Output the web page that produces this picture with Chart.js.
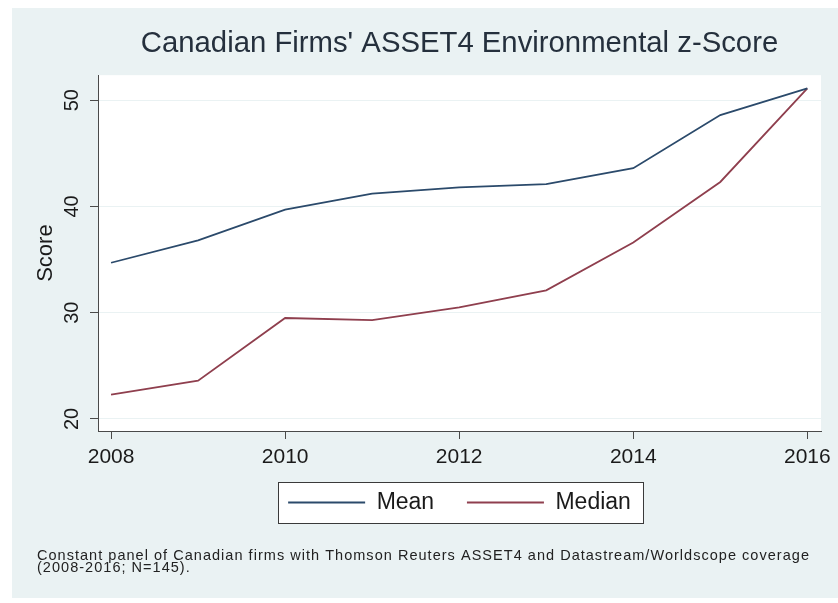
<!DOCTYPE html>
<html>
<head>
<meta charset="utf-8">
<script src="https://cdn.jsdelivr.net/npm/chart.js@4.4.1/dist/chart.umd.min.js"></script>
<style>
  html, body { margin: 0; padding: 0; background: #ffffff; }
  body { width: 838px; height: 603px; position: relative; overflow: hidden; }
  #wrap { position: absolute; left: 12px; top: 8px; width: 826px; height: 590px; background: #eaf2f3; }
  canvas { display: block; }
</style>
</head>
<body>
<div id="wrap"><canvas id="c" width="826" height="590"></canvas></div>
<script>
const years = [2008, 2009, 2010, 2011, 2012, 2013, 2014, 2015, 2016];
const meanScore = [34.7, 36.8, 39.7, 41.2, 41.8, 42.1, 43.6, 48.6, 51.1];
const medianScore = [22.3, 23.6, 29.5, 29.3, 30.5, 32.1, 36.6, 42.3, 51.1];
const seriesNames = ['Mean', 'Median'];
const titleText = "Canadian Firms' ASSET4 Environmental z-Score";
const yTitle = 'Score';
const noteLines = [
  'Constant panel of Canadian firms with Thomson Reuters ASSET4 and Datastream/Worldscope coverage',
  '(2008-2016; N=145).'
];

const FONT = '"Liberation Sans", Arial, sans-serif';
const colors = ['#2b4a6b', '#8f3f4e'];

const toPoints = (vals) => years.map((yr, i) => ({ x: yr, y: vals[i] }));

const plotBg = {
  id: 'plotBg',
  beforeDraw(chart) {
    const { ctx, chartArea: a } = chart;
    ctx.save();
    ctx.fillStyle = '#ffffff';
    ctx.fillRect(a.left, a.top, a.right - a.left, a.bottom - a.top);
    const lg = chart.legend;
    if (lg && lg.legendHitBoxes && lg.legendHitBoxes.length) {
      const hb = lg.legendHitBoxes;
      const first = hb[0], last = hb[hb.length - 1];
      const x0 = first.left - 10, x1 = last.left + last.width + 12;
      const y0 = first.top - 9, y1 = first.top + first.height + 9;
      ctx.fillStyle = '#ffffff';
      ctx.fillRect(x0, y0, x1 - x0, y1 - y0);
      ctx.strokeStyle = '#3a3a3a';
      ctx.lineWidth = 1;
      ctx.strokeRect(Math.round(x0) + 0.5, Math.round(y0) + 0.5, Math.round(x1 - x0), Math.round(y1 - y0));
    }
    ctx.restore();
  }
};

const notePlugin = {
  id: 'note',
  afterDraw(chart) {
    const { ctx } = chart;
    ctx.save();
    ctx.fillStyle = '#222222';
    ctx.font = '14.5px ' + FONT;
    ctx.textAlign = 'left';
    ctx.textBaseline = 'alphabetic';
    const target = 772;
    const w = ctx.measureText(noteLines[0]).width;
    const ls = (target - w) / (noteLines[0].length - 1);
    ctx.letterSpacing = ls.toFixed(2) + 'px';
    const x = 25, y0 = chart.height - 38, lh = 11.5;
    noteLines.forEach((t, i) => ctx.fillText(t, x, y0 + i * lh));
    ctx.restore();
  }
};

new Chart(document.getElementById('c'), {
  type: 'line',
  data: {
    datasets: [
      { label: seriesNames[0], data: toPoints(meanScore), borderColor: colors[0], backgroundColor: colors[0], borderWidth: 1.8, pointRadius: 0, tension: 0, fill: false },
      { label: seriesNames[1], data: toPoints(medianScore), borderColor: colors[1], backgroundColor: colors[1], borderWidth: 1.8, pointRadius: 0, tension: 0, fill: false }
    ]
  },
  options: {
    responsive: false,
    animation: false,
    devicePixelRatio: 1,
    layout: { padding: { left: 0, right: 17, top: 0, bottom: 74 } },
    scales: {
      x: {
        type: 'linear',
        min: 2007.85,
        max: 2016.157,
        afterFit(s) { s.height = 40; },
        border: { display: true, color: '#4a4a4a', width: 1 },
        grid: { drawOnChartArea: false, drawTicks: true, tickLength: 8, tickColor: '#4a4a4a', color: '#4a4a4a' },
        ticks: {
          stepSize: 2,
          includeBounds: false,
          autoSkip: false,
          maxRotation: 0,
          padding: 6,
          color: '#1a1a1a',
          font: { family: FONT, size: 21 },
          callback: (v) => String(v)
        }
      },
      y: {
        type: 'linear',
        min: 18.87,
        max: 52.35,
        afterFit(s) { s.width = 86; },
        border: { display: true, color: '#4a4a4a', width: 1 },
        grid: { drawOnChartArea: true, color: '#eaf2f3', lineWidth: 1, drawTicks: true, tickLength: 8, tickColor: '#4a4a4a' },
        ticks: {
          stepSize: 10,
          includeBounds: false,
          minRotation: 90,
          maxRotation: 90,
          crossAlign: 'center',
          padding: 6,
          color: '#1a1a1a',
          font: { family: FONT, size: 20 }
        },
        title: {
          display: true,
          text: yTitle,
          color: '#1a1a1a',
          font: { family: FONT, size: 22 },
          padding: { top: 21, bottom: 0 }
        }
      }
    },
    plugins: {
      title: {
        display: true,
        text: titleText,
        fullSize: false,
        color: '#25303d',
        font: { family: FONT, size: 29.3, weight: 'normal' },
        padding: { top: 18.4, bottom: 13.6 }
      },
      legend: {
        display: true,
        position: 'bottom',
        fullSize: false,
        labels: {
          color: '#1a1a1a',
          font: { family: FONT, size: 23 },
          boxWidth: 77,
          boxHeight: 2,
          padding: 20,
          generateLabels(chart) {
            const n = chart.data.datasets.length;
            return chart.data.datasets.map((ds, i) => ({
              text: ds.label + (i < n - 1 ? '  ' : ''),
              fillStyle: ds.borderColor,
              strokeStyle: ds.borderColor,
              lineWidth: 0,
              hidden: false,
              datasetIndex: i,
              fontColor: '#1a1a1a'
            }));
          }
        }
      },
      tooltip: { enabled: false }
    }
  },
  plugins: [plotBg, notePlugin]
});
</script>
</body>
</html>
